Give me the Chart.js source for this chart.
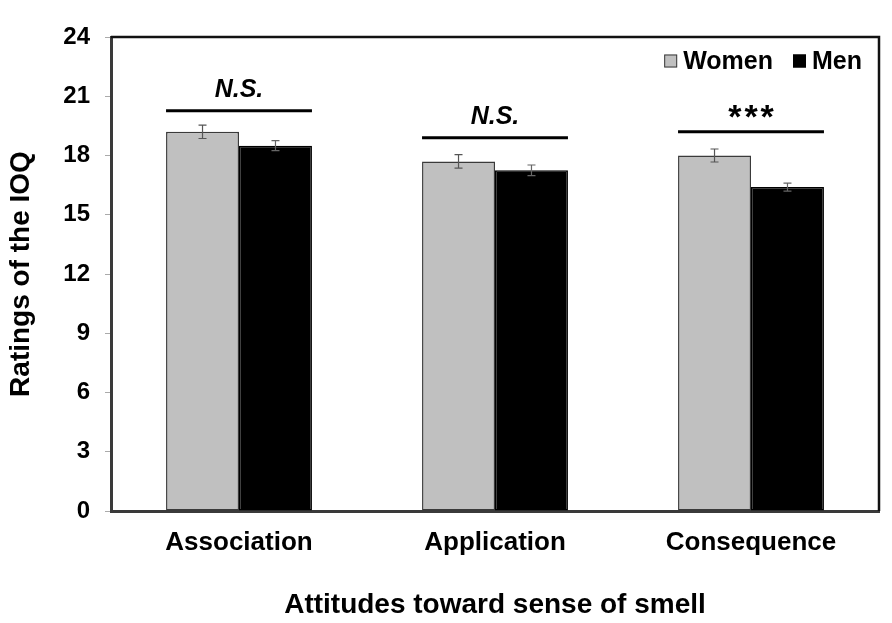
<!DOCTYPE html>
<html><head><meta charset="utf-8">
<script src="https://cdn.jsdelivr.net/npm/chart.js@4"></script>
<style>html,body{margin:0;padding:0;background:#fff}#wrap{width:892px;height:623px}</style>
</head><body><div id="wrap"><canvas id="c"></canvas></div>
<script>
const categories = ['Association', 'Application', 'Consequence'];
const women = [19.2, 17.7, 18.0];
const men = [18.5, 17.25, 16.4];
const womenSE = [0.34, 0.34, 0.33];
const menSE = [0.25, 0.27, 0.2];
const sigLabels = ['N.S.', 'N.S.', '***'];
const sigLevels = [20.27, 18.9, 19.2];
const yTicks = [0, 3, 6, 9, 12, 15, 18, 21, 24];

const FONT = '"Liberation Sans", Arial, sans-serif';

const extras = {
  id: 'extras',
  afterDatasetsDraw(chart) {
    const ctx = chart.ctx, ca = chart.chartArea, y = chart.scales.y;
    const metaW = chart.getDatasetMeta(0), metaM = chart.getDatasetMeta(1);
    const seArr = [womenSE, menSE];
    // error bars
    [metaW, metaM].forEach((meta, di) => {
      const ds = chart.data.datasets[di];
      meta.data.forEach((bar, i) => {
        const v = ds.data[i], se = seArr[di][i];
        const yt = y.getPixelForValue(v + se), yb = y.getPixelForValue(v - se);
        ctx.save();
        ctx.strokeStyle = di === 0 ? '#555' : '#666';
        ctx.lineWidth = 1.2;
        ctx.beginPath();
        ctx.moveTo(bar.x, yt); ctx.lineTo(bar.x, yb);
        ctx.moveTo(bar.x - 4, yt); ctx.lineTo(bar.x + 4, yt);
        ctx.moveTo(bar.x - 4, yb); ctx.lineTo(bar.x + 4, yb);
        ctx.stroke();
        ctx.restore();
      });
    });
    // significance lines
    categories.forEach((c, i) => {
      const bw = metaW.data[i], bm = metaM.data[i];
      const x1 = bw.x - bw.width / 2, x2 = bm.x + bm.width / 2;
      const ly = y.getPixelForValue(sigLevels[i]);
      ctx.save();
      ctx.strokeStyle = '#000'; ctx.lineWidth = 3;
      ctx.beginPath(); ctx.moveTo(x1, ly); ctx.lineTo(x2, ly); ctx.stroke();
      const isStar = sigLabels[i].indexOf('*') >= 0;
      ctx.fillStyle = '#000';
      ctx.textAlign = 'center'; ctx.textBaseline = 'alphabetic';
      if (isStar) {
        ctx.font = 'bold 34px ' + FONT;
        ctx.letterSpacing = '3px';
        ctx.fillText(sigLabels[i], (x1 + x2) / 2 + 1.5, ly - 4);
      } else {
        ctx.font = 'italic bold 25px ' + FONT;
        ctx.fillText(sigLabels[i], (x1 + x2) / 2, ly - 14);
      }
      ctx.restore();
    });
    // top & right frame
    ctx.save();
    ctx.strokeStyle = '#111'; ctx.lineWidth = 2.5;
    ctx.beginPath();
    ctx.moveTo(ca.left, ca.top); ctx.lineTo(ca.right, ca.top); ctx.lineTo(ca.right, ca.bottom);
    ctx.stroke();
    ctx.restore();
    // legend (inside, top-right)
    ctx.save();
    ctx.font = 'bold 25px ' + FONT;
    ctx.textBaseline = 'middle'; ctx.textAlign = 'left';
    const ly = ca.top + 24;
    let xr = ca.right - 17;
    const items = chart.data.datasets.map(d => d).reverse();
    items.forEach((ds, k) => {
      const tw = ctx.measureText(ds.label).width;
      const tx = xr - tw;
      ctx.fillStyle = '#000';
      ctx.fillText(ds.label, tx, ly + 1);
      const bx = tx - 6 - 13;
      ctx.fillStyle = ds.backgroundColor;
      ctx.fillRect(bx, ly - 6.5, 13, 13);
      ctx.strokeStyle = ds.borderColor; ctx.lineWidth = 1;
      ctx.strokeRect(bx + 0.5, ly - 6, 12, 12);
      xr = bx - 20;
    });
    ctx.restore();
  }
};

new Chart(document.getElementById('c'), {
  type: 'bar',
  data: {
    labels: categories,
    datasets: [
      { label: 'Women', data: women, backgroundColor: '#c0c0c0', borderColor: '#3a3a3a', borderWidth: 1.5, borderSkipped: false },
      { label: 'Men', data: men, backgroundColor: '#000000', borderColor: '#000000', borderWidth: 1.5, borderSkipped: false }
    ]
  },
  options: {
    responsive: true, maintainAspectRatio: false, animation: false,
    devicePixelRatio: 1,
    layout: { padding: { top: 37, right: 13, left: 0, bottom: 0 } },
    datasets: { bar: { categoryPercentage: 0.57, barPercentage: 1.0 } },
    plugins: { legend: { display: false }, tooltip: { enabled: false } },
    scales: {
      x: {
        grid: { display: false, drawTicks: false },
        border: { display: true, color: '#3a3a3a', width: 3 },
        ticks: { color: '#000', font: { family: FONT, size: 26, weight: 'bold' }, padding: 16, maxRotation: 0 },
        title: { display: true, text: 'Attitudes toward sense of smell', color: '#000', font: { family: FONT, size: 28, weight: 'bold' }, padding: { top: 0, bottom: 1 } },
        afterFit(s) { s.height = 112; }
      },
      y: {
        min: 0, max: 24,
        afterBuildTicks(s) { s.ticks = yTicks.map(v => ({ value: v })); },
        grid: { drawOnChartArea: false, drawTicks: true, tickLength: 6, color: '#aaa' },
        border: { display: true, color: '#3a3a3a', width: 3 },
        ticks: { color: '#000', font: { family: FONT, size: 24, weight: 'bold' }, padding: 15 },
        title: { display: true, text: 'Ratings of the IOQ', color: '#000', font: { family: FONT, size: 28, weight: 'bold' }, padding: { top: 4, bottom: 0 } },
        afterFit(s) { s.width = 111; }
      }
    }
  },
  plugins: [extras]
});
</script></body></html>
